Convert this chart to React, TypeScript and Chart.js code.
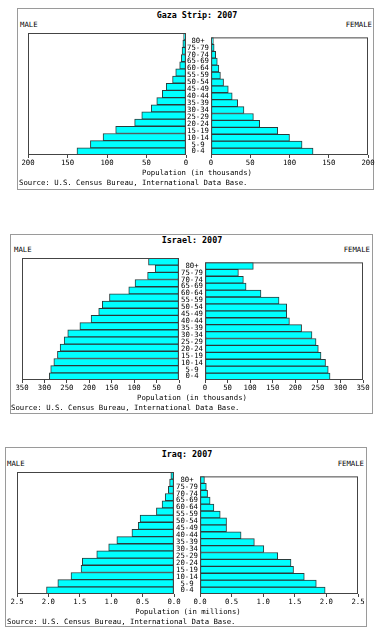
import React, { useEffect, useRef } from 'react';
import { Chart, registerables } from 'chart.js';
Chart.register(...registerables);

const ageGroups = ['0-4', '5-9', '10-14', '15-19', '20-24', '25-29', '30-34', '35-39', '40-44', '45-49', '50-54', '55-59', '60-64', '65-69', '70-74', '75-79', '80+'];

const gazaMale = [138, 121, 105, 89, 65, 56, 44, 37, 30, 25, 17, 13, 8, 6, 5, 4, 3];
const gazaFemale = [130, 116, 100, 85, 62, 54, 42, 34, 27, 22, 16, 12, 10, 8, 6, 4, 3];
const israelMale = [289, 286, 279, 271, 265, 256, 248, 221, 196, 179, 171, 155, 112, 98, 70, 53, 68];
const israelFemale = [277, 273, 267, 257, 251, 246, 237, 214, 187, 181, 181, 164, 124, 91, 85, 74, 107];
const iraqMale = [2.03, 1.85, 1.64, 1.48, 1.46, 1.23, 1.04, 0.91, 0.67, 0.57, 0.54, 0.28, 0.19, 0.14, 0.09, 0.07, 0.05];
const iraqFemale = [1.98, 1.84, 1.65, 1.48, 1.44, 1.23, 1.01, 0.86, 0.65, 0.42, 0.42, 0.32, 0.22, 0.16, 0.12, 0.1, 0.07];

const gazaTicks = [0, 50, 100, 150, 200];
const israelTicks = [0, 50, 100, 150, 200, 250, 300, 350];
const iraqTicks = [0, 0.5, 1.0, 1.5, 2.0, 2.5];

const FONT = '"DejaVu Sans Mono", monospace';
const FS = 7.3;

type Rect = { x: number; y: number; w: number; h: number };

const boxPlugin = {
  id: 'plotBox',
  afterDraw(chart: any) {
    const { ctx, chartArea: a } = chart;
    ctx.save();
    ctx.strokeStyle = '#444';
    ctx.lineWidth = 1;
    ctx.strokeRect(a.left + 0.5, a.top + 0.5, a.right - a.left - 1, a.bottom - a.top - 1);
    ctx.restore();
  },
};

const PAD_T = 2;
const AXIS_H = 16;
const PAD_L = 12;
const PAD_R = 12;

function makeChart(canvas: HTMLCanvasElement, opts: {
  left: boolean; values: number[]; ticks: number[]; decimals: number; gap: number;
}) {
  const { left, values, ticks, decimals, gap } = opts;
  return new Chart(canvas, {
    type: 'bar',
    data: {
      labels: ageGroups,
      datasets: [{
        data: values,
        backgroundColor: '#00ffff',
        borderColor: '#2b3b3b',
        borderWidth: 1,
        borderSkipped: false,
        barPercentage: 1,
        categoryPercentage: 1,
      } as any],
    },
    options: {
      indexAxis: 'y',
      responsive: false,
      animation: false,
      devicePixelRatio: 1,
      layout: { padding: { left: left ? PAD_L : 0, right: left ? 8 : PAD_R, top: PAD_T, bottom: 0 } },
      plugins: { legend: { display: false }, tooltip: { enabled: false }, title: { display: false } },
      scales: {
        x: {
          type: 'linear',
          min: 0,
          max: ticks[ticks.length - 1],
          reverse: left,
          afterBuildTicks: (s: any) => { s.ticks = ticks.map((v) => ({ value: v })); },
          afterFit: (s: any) => { s.height = AXIS_H; },
          ticks: {
            callback: (v: any) => Number(v).toFixed(decimals),
            padding: 1,
            maxRotation: 0,
            autoSkip: false,
            color: '#000',
            font: { family: FONT, size: FS },
          },
          grid: { display: true, drawOnChartArea: false, drawTicks: true, tickLength: 3, color: '#444' },
          border: { display: false },
        },
        y: {
          type: 'category',
          reverse: true,
          offset: true,
          display: !left,
          afterFit: (s: any) => { s.width = left ? 0 : gap; },
          grid: { display: false, drawTicks: false },
          border: { display: false },
          ticks: {
            crossAlign: 'center',
            padding: 2,
            autoSkip: false,
            color: '#000',
            font: { family: FONT, size: FS },
          },
        },
      },
    } as any,
    plugins: [boxPlugin],
  });
}

function T(props: { x: number; y: number; align?: 'left' | 'center' | 'right'; bold?: boolean; size?: number; children: any }) {
  const { x, y, align = 'left', bold = false, size = FS, children } = props;
  const tx = align === 'center' ? '-50%' : align === 'right' ? '-100%' : '0';
  return (
    <div style={{
      position: 'absolute', left: x, top: y, transform: `translate(${tx}, -50%)`,
      fontFamily: FONT, fontSize: size, fontWeight: bold ? 'bold' : 'normal',
      whiteSpace: 'nowrap', lineHeight: 1, color: '#000',
    }}>{children}</div>
  );
}

type PanelProps = {
  frame: Rect; lp: Rect; rp: Rect; title: string; titleX: number; titleY: number;
  maleX: number; femaleXR: number; labelY: number; popX: number; popY: number; srcX: number; srcY: number;
  male: number[]; female: number[]; ticks: number[]; decimals: number; unit: string;
};

function Panel(p: PanelProps) {
  const lRef = useRef<HTMLCanvasElement>(null);
  const rRef = useRef<HTMLCanvasElement>(null);
  const gapLeft = p.lp.x + p.lp.w;
  const gap = p.rp.x - gapLeft;
  const lW = p.lp.w + PAD_L + 8;
  const rW = gap + p.rp.w + PAD_R;
  const hL = p.lp.h + PAD_T + AXIS_H;
  const hR = p.rp.h + PAD_T + AXIS_H;

  useEffect(() => {
    const c1 = makeChart(lRef.current!, { left: true, values: p.male, ticks: p.ticks, decimals: p.decimals, gap });
    const c2 = makeChart(rRef.current!, { left: false, values: p.female, ticks: p.ticks, decimals: p.decimals, gap });
    return () => { c1.destroy(); c2.destroy(); };
  }, []);

  return (
    <>
      <div style={{
        position: 'absolute', left: p.frame.x, top: p.frame.y, width: p.frame.w, height: p.frame.h,
        border: '1px solid #9a9a9a', boxSizing: 'border-box',
      }} />
      <T x={p.titleX} y={p.titleY} align="center" bold size={8.4}>{p.title}</T>
      <T x={p.maleX} y={p.labelY}>MALE</T>
      <T x={p.femaleXR} y={p.labelY} align="right">FEMALE</T>
      <canvas ref={lRef} width={lW} height={hL}
        style={{ position: 'absolute', left: p.lp.x - PAD_L, top: p.lp.y - PAD_T, width: lW, height: hL }} />
      <canvas ref={rRef} width={rW} height={hR}
        style={{ position: 'absolute', left: gapLeft, top: p.rp.y - PAD_T, width: rW, height: hR }} />
      <T x={p.popX} y={p.popY} align="center">{`Population (in ${p.unit})`}</T>
      <T x={p.srcX} y={p.srcY}>Source: U.S. Census Bureau, International Data Base.</T>
    </>
  );
}

export default function App() {
  return (
    <div style={{ position: 'fixed', left: 0, top: 0, width: 381, height: 637, background: '#fff', overflow: 'hidden' }}>
      <Panel
        frame={{ x: 17, y: 8, w: 357, h: 182 }}
        lp={{ x: 28, y: 33, w: 158, h: 122 }}
        rp={{ x: 211, y: 33, w: 157, h: 122 }}
        title="Gaza Strip: 2007" titleX={197} titleY={15}
        maleX={20} femaleXR={372} labelY={25}
        popX={197} popY={173} srcX={19} srcY={183}
        male={gazaMale} female={gazaFemale} ticks={gazaTicks} decimals={0} unit="thousands"
      />
      <Panel
        frame={{ x: 10, y: 234, w: 363, h: 180 }}
        lp={{ x: 22, y: 258, w: 157, h: 122 }}
        rp={{ x: 205, y: 258, w: 158, h: 122 }}
        title="Israel: 2007" titleX={192} titleY={240}
        maleX={14} femaleXR={370} labelY={250}
        popX={192} popY={398} srcX={11} srcY={408}
        male={israelMale} female={israelFemale} ticks={israelTicks} decimals={0} unit="thousands"
      />
      <Panel
        frame={{ x: 5, y: 447, w: 362, h: 180 }}
        lp={{ x: 17, y: 472, w: 157, h: 122 }}
        rp={{ x: 200, y: 472, w: 158, h: 122 }}
        title="Iraq: 2007" titleX={187} titleY={454}
        maleX={7} femaleXR={364} labelY={464}
        popX={188} popY={612} srcX={7} srcY={622}
        male={iraqMale} female={iraqFemale} ticks={iraqTicks} decimals={1} unit="millions"
      />
    </div>
  );
}
